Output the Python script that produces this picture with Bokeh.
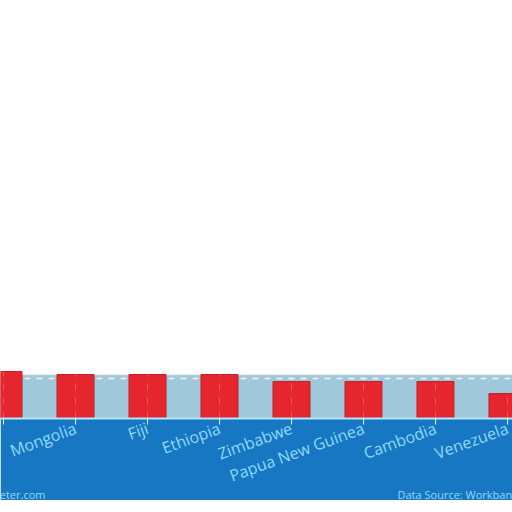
from bokeh.plotting import figure
from bokeh.models import Range1d, FixedTicker
from bokeh.layouts import column
from bokeh.core.properties import value
from bokeh.embed import file_html
from bokeh.resources import INLINE

# ---- data ----
countries = ["Bolivia", "Mongolia", "Fiji", "Ethiopia", "Zimbabwe",
             "Papua New Guinea", "Cambodia", "Venezuela"]
values = [4.7, 4.4, 4.4, 4.4, 3.7, 3.7, 3.7, 2.5]
grid_levels = [4.0]
band_top = [4.35]
source_left = ["www.worldmeter.com"]
source_right = ["Data Source: Workbank"]

idx = list(range(len(countries)))

RED = "#e5262e"
LIGHT = "#9fc9da"
DARK = "#1777c3"
TXT = "#8fdaf7"

p = figure(width=512, height=500, output_backend="svg", toolbar_location=None,
           x_range=Range1d(-0.042, 7.07), y_range=Range1d(0, 41.8),
           min_border_left=0, min_border_right=0, min_border_top=0,
           min_border_bottom=82)
p.border_fill_color = DARK
p.background_fill_color = "white"
p.outline_line_color = None
p.yaxis.visible = False
p.xgrid.visible = False
p.ygrid.visible = False

# light blue band behind bars
p.quad(left=[-1], right=[9], bottom=[0], top=band_top,
       fill_color=LIGHT, line_color="#c9d3d8", line_width=1)
# dashed grid line
p.hspan(y=grid_levels, line_color="white", line_dash="6 6",
        line_alpha=0.85, line_width=1.5)
# bars
p.vbar(x=idx, top=values, width=0.514, fill_color=RED,
       line_color="#c41f28", line_width=1)
# faint vertical grid within bars
p.segment(x0=idx, y0=[0] * len(idx), x1=idx, y1=values,
          line_color="white", line_alpha=0.22, line_dash="7 7", line_width=1)

ax = p.xaxis[0]
ax.ticker = FixedTicker(ticks=idx)
# the first category sits at the left edge; its name runs off the picture
ax.major_label_overrides = {i: (c if i > 0 else "") for i, c in zip(idx, countries)}
ax.major_label_orientation = 0.35
ax.major_label_text_color = TXT
ax.major_label_text_font = "Open Sans"
ax.major_label_text_font_size = "16px"
ax.major_label_standoff = 3
ax.axis_line_color = "#b5e6f7"
ax.axis_line_width = 2
ax.major_tick_line_color = "#e0f4fb"
ax.major_tick_out = 6
ax.major_tick_in = 0
ax.minor_tick_line_color = None

# source line, overlaid on the bottom of the blue band
p2 = figure(width=512, height=16, output_backend="svg", toolbar_location=None,
            x_range=Range1d(0, 512), y_range=Range1d(0, 16),
            min_border=0, margin=(-16, 0, 0, 0))
p2.background_fill_alpha = 0
p2.border_fill_alpha = 0
p2.outline_line_color = None
p2.axis.visible = False
p2.grid.visible = False
p2.text(x=[45], y=[6], text=source_left, text_align="right",
        text_baseline="alphabetic", text_color=TXT,
        text_font=value("Open Sans"), text_font_size="11px")
p2.text(x=[397], y=[6], text=source_right, text_align="left",
        text_baseline="alphabetic", text_color=TXT,
        text_font=value("Open Sans"), text_font_size="11px")

layout = column(p, p2, spacing=0)
open("out.html", "w").write(file_html(layout, INLINE))
